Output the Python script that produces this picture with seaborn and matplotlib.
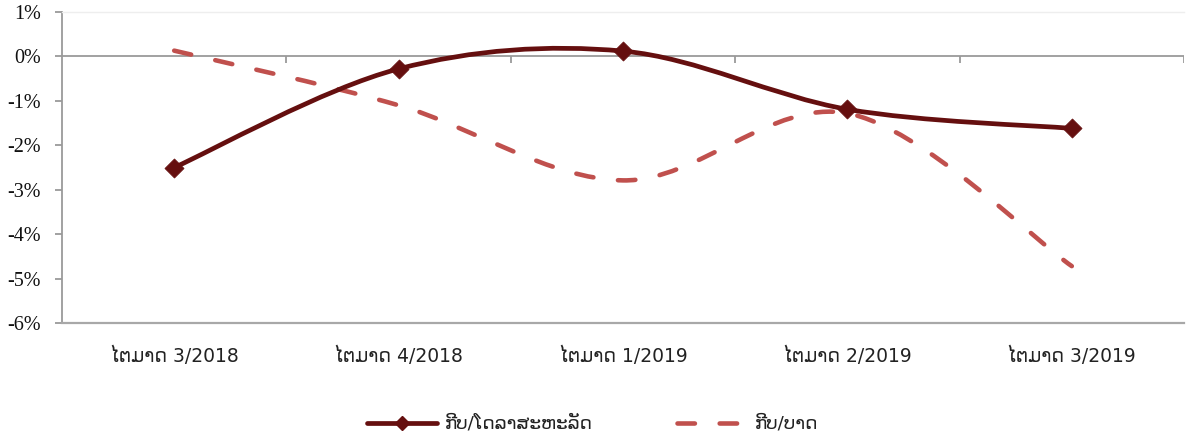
import numpy as np
import pandas as pd
import matplotlib
matplotlib.use("Agg")
import matplotlib.pyplot as plt
from matplotlib.path import Path
from matplotlib.patches import PathPatch
from matplotlib.lines import Line2D
import seaborn as sns

# ---- data ----
categories = ["ໄຕມາດ 3/2018", "ໄຕມາດ 4/2018", "ໄຕມາດ 1/2019", "ໄຕມາດ 2/2019", "ໄຕມາດ 3/2019"]
kip_usd = [-2.50, -0.28, 0.12, -1.19, -1.62]
kip_thb = [0.13, -1.10, -2.79, -1.28, -4.72]
series_names = ["ກີບ/ໂດລາສະຫະລັດ", "ກີບ/ບາດ"]
y_ticks = [1, 0, -1, -2, -3, -4, -5, -6]

sns.set_theme(style="white")
plt.rcParams["font.family"] = ["DejaVu Sans"]

c_dark = "#650F0F"
c_light = "#C0504D"

fig = plt.figure(figsize=(11.86, 4.41), dpi=100)
ax = fig.add_axes([62 / 1186, 1 - 323 / 441, (1184 - 62) / 1186, (323 - 12) / 441])

df = pd.DataFrame({"cat": np.arange(len(categories)), "usd": kip_usd, "thb": kip_thb})


def smooth_path(xs, ys):
    """Excel-style smoothed line: cubic Bezier through the points."""
    pts = np.column_stack([xs, ys]).astype(float)
    n = len(pts)
    verts = [pts[0]]
    codes = [Path.MOVETO]
    for i in range(n - 1):
        p0 = pts[i - 1] if i > 0 else pts[i]
        p1 = pts[i]
        p2 = pts[i + 1]
        p3 = pts[i + 2] if i + 2 < n else pts[i + 1]
        c1 = p1 + (p2 - p0) / 6.0
        c2 = p2 - (p3 - p1) / 6.0
        verts += [c1, c2, p2]
        codes += [Path.CURVE4] * 3
    return Path(verts, codes)


lw_solid = 3.4
lw_dash = 3.3
dash_pat = (0, (3.8, 5.4))

ax.add_patch(PathPatch(smooth_path(df["cat"], df["thb"]), fill=False, edgecolor=c_light,
                       lw=lw_dash, linestyle=dash_pat, capstyle="round", joinstyle="round",
                       transform=ax.transData, zorder=3))
ax.add_patch(PathPatch(smooth_path(df["cat"], df["usd"]), fill=False, edgecolor=c_dark,
                       lw=lw_solid, capstyle="round", joinstyle="round",
                       transform=ax.transData, zorder=4))
sns.scatterplot(data=df, x="cat", y="usd", marker="D", s=95, color=c_dark,
                edgecolor=c_dark, linewidth=0.5, ax=ax, zorder=5, legend=False)

ax.set_xlim(-0.5, len(categories) - 0.5)
ax.set_ylim(-6, 1)
ax.set_xlabel("")
ax.set_ylabel("")

# horizontal axis line at zero with boundary ticks
ax.axhline(0, color="#9a9a9a", lw=1.3, zorder=2)
bounds = np.arange(len(categories) + 1) - 0.5
ax.vlines(bounds[1:], 0, -0.14, color="#9a9a9a", lw=1.3, zorder=2)

ax.set_xticks(np.arange(len(categories)))
ax.set_xticklabels(categories, fontsize=13.5, color="#222222")
ax.tick_params(axis="x", length=0, pad=17)

ax.set_yticks(y_ticks)
ax.set_yticklabels([f"{v}%" for v in y_ticks], fontsize=14.5, color="#111111",
                   family=["Liberation Serif", "DejaVu Serif"])
ax.tick_params(axis="y", left=True, length=5, width=1.3, color="#9a9a9a", pad=10)

ax.spines["right"].set_visible(False)
ax.spines["top"].set_color("#eeeeee")
ax.spines["top"].set_linewidth(1.0)
ax.spines["left"].set_color("#9a9a9a")
ax.spines["left"].set_linewidth(1.3)
ax.spines["bottom"].set_color("#a8a8a8")
ax.spines["bottom"].set_linewidth(1.6)

h_solid = Line2D([0, 0.5, 1], [0, 0, 0], color=c_dark, lw=lw_solid, marker="D",
                 markersize=7, markevery=[1], solid_capstyle="round")
h_dash = Line2D([], [], color=c_light, lw=lw_dash, linestyle=dash_pat,
                dash_capstyle="round")
leg = fig.legend([h_solid, h_dash], series_names, loc="center",
                 bbox_to_anchor=(0.5, 1 - 424 / 441),
                 ncol=2, frameon=False, fontsize=13.2, handlelength=3.8,
                 columnspacing=4.6, handletextpad=0.45)
for t in leg.get_texts():
    t.set_color("#222222")

fig.savefig("out.png", dpi=100)
